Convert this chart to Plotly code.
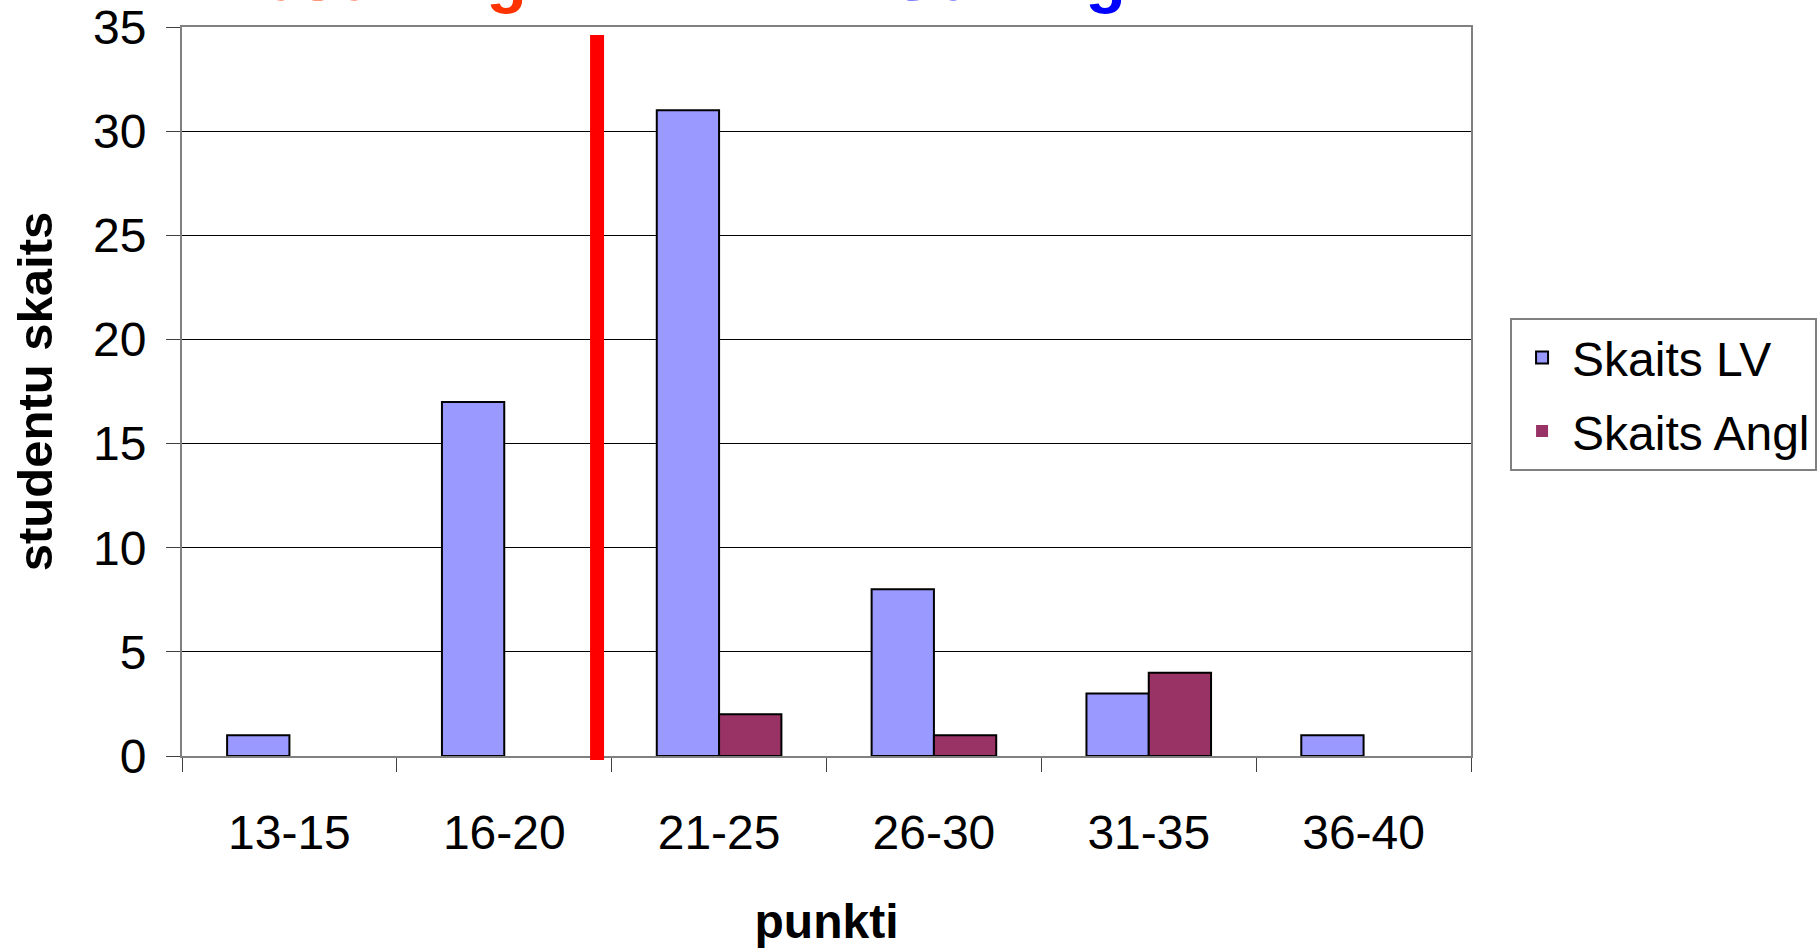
import plotly.graph_objects as go

categories = ["13-15", "16-20", "21-25", "26-30", "31-35", "36-40"]
skaits_lv = [1, 17, 31, 8, 3, 1]
skaits_angl = [0, 0, 2, 1, 4, 0]
y_ticks = [0, 5, 10, 15, 20, 25, 30, 35]
threshold_pos = 1.432  # position of the pass/fail divider between 16-20 and 21-25

FONT = "Liberation Sans, Arial, sans-serif"


def outline(vals):
    return [2 if v > 0 else 0 for v in vals]


fig = go.Figure()
fig.add_trace(go.Bar(x=categories, y=skaits_lv, name="Skaits LV", legendgroup="a",
                     marker=dict(color="#9999FF", line=dict(color="black", width=outline(skaits_lv)))))
fig.add_trace(go.Bar(x=categories, y=skaits_angl, name="Skaits Angl", legendgroup="b",
                     marker=dict(color="#993366", line=dict(color="black", width=outline(skaits_angl)))))

fig.add_shape(type="line", xref="x", yref="paper", x0=threshold_pos, x1=threshold_pos,
              y0=-0.0055, y1=0.989, line=dict(color="#FF0000", width=14), layer="above")

fig.add_annotation(text="<b>Nesekmīgi</b>", xref="paper", yref="paper", x=0.1536, y=1.0151,
                   xanchor="center", yanchor="bottom", showarrow=False,
                   font=dict(family=FONT, size=66, color="#FF3300"))
fig.add_annotation(text="<b>Sekmīgi</b>", xref="paper", yref="paper", x=0.6480, y=1.0151,
                   xanchor="center", yanchor="bottom", showarrow=False,
                   font=dict(family=FONT, size=66, color="#0000FF"))

fig.update_layout(
    width=1820, height=948,
    margin=dict(l=182, r=349, t=27, b=192, autoexpand=False),
    paper_bgcolor="white", plot_bgcolor="white",
    barmode="group", bargap=0.42, bargroupgap=0,
    font=dict(family=FONT, size=48, color="black"),
    showlegend=True,
    legend=dict(x=1.0303, y=0.601, xanchor="left", yanchor="top",
                bordercolor="#808080", borderwidth=2, bgcolor="white",
                font=dict(size=48), traceorder="grouped", tracegroupgap=8, itemwidth=50),
    xaxis=dict(
        type="category", showline=True, linecolor="#808080", linewidth=2, mirror=True,
        ticks="outside", tickson="boundaries", ticklen=14, tickcolor="#404040", tickwidth=1,
        showgrid=False, ticklabelstandoff=33,
        title=dict(text="<b>punkti</b>", font=dict(size=48), standoff=49),
    ),
    yaxis=dict(
        range=[0, 35], tickvals=y_ticks, showline=True, linecolor="#808080", linewidth=2,
        mirror=True, ticks="outside", ticklen=14, tickcolor="#404040", tickwidth=1,
        showgrid=True, gridcolor="black", gridwidth=1, zeroline=False,
        ticklabelstandoff=10,
        title=dict(text="<b>studentu skaits</b>", font=dict(size=49), standoff=25),
    ),
)

fig.write_html("out.html", config={"displayModeBar": False},
               post_script="document.body.style.margin='0';document.body.style.padding='0';")
